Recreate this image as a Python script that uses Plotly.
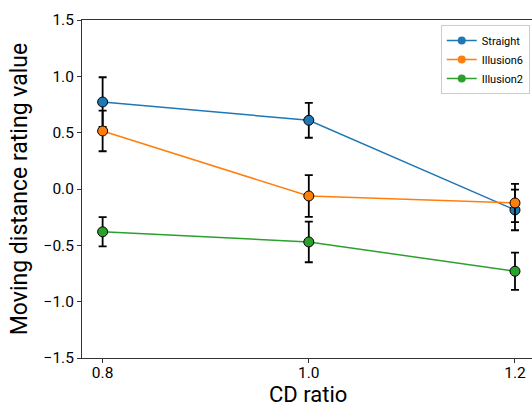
import plotly.graph_objects as go

cd_ratio = [0.8, 1.0, 1.2]
straight = [0.772, 0.61, -0.186]
straight_err = [0.22, 0.155, 0.18]
illusion6 = [0.515, -0.062, -0.124]
illusion6_err = [0.18, 0.185, 0.17]
illusion2 = [-0.38, -0.47, -0.73]
illusion2_err = [0.13, 0.18, 0.165]

series = [
    ("Straight", straight, straight_err, "#1f77b4"),
    ("Illusion6", illusion6, illusion6_err, "#ff7f0e"),
    ("Illusion2", illusion2, illusion2_err, "#2ca02c"),
]

font = "Roboto, DejaVu Sans, sans-serif"
fig = go.Figure()
for name, vals, errs, color in series:
    fig.add_trace(go.Scatter(
        x=cd_ratio, y=vals, name=name, mode="lines+markers",
        legendgroup=name, showlegend=False,
        line=dict(color=color, width=1.5),
        marker=dict(color=color, size=10, line=dict(color="black", width=1)),
        error_y=dict(type="data", array=errs, visible=True, color="black",
                     thickness=1.8, width=4),
    ))
for name, vals, errs, color in series:
    fig.add_trace(go.Scatter(
        x=[None], y=[None], name=name, mode="lines+markers",
        legendgroup=name, showlegend=True,
        line=dict(color=color, width=1.5),
        marker=dict(color=color, size=8, line=dict(width=0)),
    ))

fig.update_layout(
    width=532, height=407,
    margin=dict(l=82, r=0, t=20, b=49),
    plot_bgcolor="white", paper_bgcolor="white",
    font=dict(family=font, color="black"),
    showlegend=True,
    legend=dict(x=0.995, y=0.985, xanchor="right", yanchor="top",
                bgcolor="white", bordercolor="#cccccc", borderwidth=1,
                font=dict(size=11), itemwidth=30, tracegroupgap=0),
    xaxis=dict(range=[0.78, 1.2165], tickvals=[0.8, 1.0, 1.2],
               ticktext=["0.8", "1.0", "1.2"], showgrid=False, zeroline=False,
               showline=True, linecolor="#333333", linewidth=1, mirror=True,
               ticks="outside", ticklen=4, tickcolor="#333333",
               ticklabelstandoff=-4,
               tickfont=dict(size=15.5)),
    yaxis=dict(range=[-1.5, 1.5], tickvals=[-1.5, -1.0, -0.5, 0.0, 0.5, 1.0, 1.5],
               ticktext=["\u22121.5", "\u22121.0", "\u22120.5", "0.0", "0.5", "1.0", "1.5"],
               showgrid=False, zeroline=False,
               showline=True, linecolor="#333333", linewidth=1,
               ticks="outside", ticklen=4, tickcolor="#333333",
               tickfont=dict(size=15.5),
               title=dict(text="Moving distance rating value", font=dict(size=23), standoff=9)),
    annotations=[dict(text="CD ratio", xref="paper", yref="paper", x=0.503, y=0,
                      xanchor="center", yanchor="middle", yshift=-36,
                      showarrow=False, font=dict(size=22))],
)

fig.write_html("out.html", config={"displayModeBar": False},
               post_script="document.body.style.margin='0';document.body.style.overflow='hidden';")
